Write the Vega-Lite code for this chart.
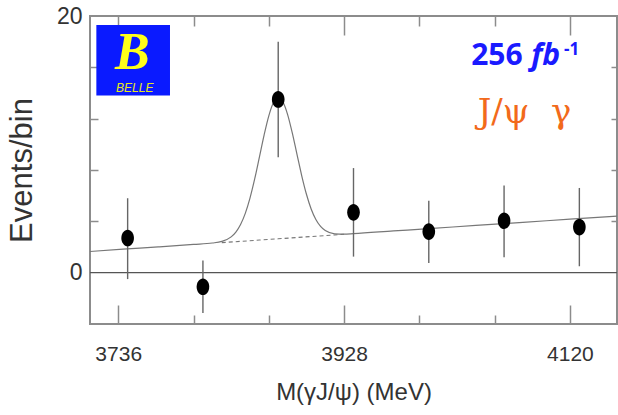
{
  "$schema": "https://vega.github.io/schema/vega-lite/v6.json",
  "width": 527,
  "height": 308,
  "autosize": {"type": "none"},
  "padding": {"left": 90, "top": 16, "right": 1, "bottom": 91},
  "background": "white",
  "config": {
    "view": {"stroke": "#8c8c8c", "strokeWidth": 2},
    "axis": {"grid": false, "domain": false, "labelOverlap": false, "labelFlush": false, "tickColor": "#8c8c8c", "tickWidth": 1.5}
  },
  "datasets": {
    "one": [{"k": 1}],
    "pts": [
      {"m": 3744, "n": 2.7, "lo": -0.5, "hi": 5.8},
      {"m": 3808, "n": -1.1, "lo": -3.15, "hi": 0.95},
      {"m": 3872, "n": 13.5, "lo": 9.0, "hi": 18.0},
      {"m": 3936, "n": 4.7, "lo": 1.25, "hi": 8.15},
      {"m": 4000, "n": 3.2, "lo": 0.75, "hi": 5.6},
      {"m": 4064, "n": 4.05, "lo": 1.2, "hi": 6.8},
      {"m": 4128, "n": 3.55, "lo": 0.5, "hi": 6.6}
    ],
    "fit": [
      {"m": 3712, "f": 1.65}, {"m": 3740, "f": 1.83}, {"m": 3770, "f": 2.01}, {"m": 3800, "f": 2.2},
      {"m": 3816, "f": 2.31}, {"m": 3824, "f": 2.44}, {"m": 3832, "f": 2.79}, {"m": 3836, "f": 3.16},
      {"m": 3840, "f": 3.75}, {"m": 3844, "f": 4.62}, {"m": 3848, "f": 5.81}, {"m": 3852, "f": 7.3},
      {"m": 3856, "f": 9.0}, {"m": 3860, "f": 10.72}, {"m": 3864, "f": 12.22}, {"m": 3868, "f": 13.26},
      {"m": 3872, "f": 13.64}, {"m": 3876, "f": 13.3}, {"m": 3880, "f": 12.32}, {"m": 3884, "f": 10.87},
      {"m": 3888, "f": 9.2}, {"m": 3892, "f": 7.55}, {"m": 3896, "f": 6.11}, {"m": 3900, "f": 4.96},
      {"m": 3904, "f": 4.14}, {"m": 3908, "f": 3.6}, {"m": 3912, "f": 3.28}, {"m": 3920, "f": 3.03},
      {"m": 3928, "f": 3.0}, {"m": 3936, "f": 3.04}, {"m": 3970, "f": 3.25}, {"m": 4000, "f": 3.43},
      {"m": 4040, "f": 3.68}, {"m": 4080, "f": 3.92}, {"m": 4120, "f": 4.17}, {"m": 4160, "f": 4.41}
    ],
    "bkg": [
      {"m": 3824, "b": 2.34}, {"m": 3840, "b": 2.44}, {"m": 3856, "b": 2.54}, {"m": 3872, "b": 2.64},
      {"m": 3888, "b": 2.74}, {"m": 3904, "b": 2.84}, {"m": 3920, "b": 2.94}, {"m": 3928, "b": 2.99}
    ]
  },
  "resolve": {"axis": {"x": "independent", "y": "independent"}},
  "layer": [
    {
      "data": {"name": "one"},
      "mark": {"type": "rule", "color": "#555555", "strokeWidth": 1.2},
      "encoding": {
        "y": {"datum": 0, "type": "quantitative", "scale": {"domain": [-4, 20], "nice": false, "zero": false}, "axis": null}
      }
    },
    {
      "data": {"name": "one"},
      "mark": {"type": "rect", "color": "#0a1aff"},
      "encoding": {
        "x": {"datum": 3717.4, "type": "quantitative", "scale": {"domain": [3712, 4160], "nice": false, "zero": false},
              "axis": {"orient": "top", "values": [3800, 3864, 3992, 4056], "tickSize": -10, "labels": false, "title": null}},
        "x2": {"datum": 3780},
        "y": {"datum": 13.8, "type": "quantitative", "axis": null},
        "y2": {"datum": 19.3}
      }
    },
    {
      "data": {"name": "one"},
      "mark": {"type": "text", "text": "B", "font": "Liberation Serif", "fontStyle": "italic", "fontWeight": "bold", "fontSize": 52, "color": "#ffff1a", "align": "center", "baseline": "alphabetic"},
      "encoding": {
        "x": {"datum": 3748, "type": "quantitative", "axis": null},
        "y": {"datum": 15.85, "type": "quantitative", "axis": null}
      }
    },
    {
      "data": {"name": "one"},
      "mark": {"type": "text", "text": "BELLE", "font": "Liberation Sans", "fontStyle": "italic", "fontSize": 12, "color": "#e8e81a", "align": "center", "baseline": "alphabetic"},
      "encoding": {
        "x": {"datum": 3750, "type": "quantitative", "axis": null},
        "y": {"datum": 14.05, "type": "quantitative", "axis": null}
      }
    },
    {
      "data": {"name": "one"},
      "mark": {"type": "text", "text": "256", "font": "Open Sans", "fontWeight": "bold", "fontSize": 30, "color": "#1a1aff", "align": "left", "baseline": "alphabetic"},
      "encoding": {
        "x": {"datum": 4036, "type": "quantitative", "axis": null},
        "y": {"datum": 16.2, "type": "quantitative", "axis": null}
      }
    },
    {
      "data": {"name": "one"},
      "mark": {"type": "text", "text": "fb", "font": "Open Sans", "fontWeight": "bold", "fontStyle": "italic", "fontSize": 30, "color": "#1a1aff", "align": "left", "baseline": "alphabetic"},
      "encoding": {
        "x": {"datum": 4087, "type": "quantitative", "axis": null},
        "y": {"datum": 16.2, "type": "quantitative", "axis": null}
      }
    },
    {
      "data": {"name": "one"},
      "mark": {"type": "text", "text": "-1", "font": "Open Sans", "fontWeight": "bold", "fontSize": 17, "color": "#1a1aff", "align": "left", "baseline": "alphabetic"},
      "encoding": {
        "x": {"datum": 4115, "type": "quantitative", "axis": null},
        "y": {"datum": 17.0, "type": "quantitative", "axis": null}
      }
    },
    {
      "data": {"name": "one"},
      "mark": {"type": "text", "text": "J/ψ\u00a0 γ", "font": "DejaVu Serif", "fontSize": 34, "color": "#f26a1b", "align": "left", "baseline": "alphabetic"},
      "encoding": {
        "x": {"datum": 4041.6, "type": "quantitative", "axis": null},
        "y": {"datum": 11.67, "type": "quantitative", "axis": null}
      }
    },
    {
      "data": {"name": "bkg"},
      "mark": {"type": "line", "color": "#777777", "strokeWidth": 1.1, "strokeDash": [4, 3]},
      "encoding": {
        "x": {"field": "m", "type": "quantitative",
              "axis": {"orient": "top", "values": [3736, 3928, 4120], "tickSize": -19, "labels": false, "title": null}},
        "y": {"field": "b", "type": "quantitative", "axis": null}
      }
    },
    {
      "data": {"name": "fit"},
      "mark": {"type": "line", "color": "#777777", "strokeWidth": 1.2, "interpolate": "monotone"},
      "encoding": {
        "x": {"field": "m", "type": "quantitative",
              "axis": {"orient": "bottom", "values": [3800, 3864, 3992, 4056], "tickSize": -9, "labels": false, "title": null}},
        "y": {"field": "f", "type": "quantitative",
              "axis": {"orient": "right", "values": [4, 8, 12, 16], "tickSize": -6, "labels": false, "title": null}}
      }
    },
    {
      "data": {"name": "pts"},
      "mark": {"type": "rule", "color": "#666666", "strokeWidth": 1.4},
      "encoding": {
        "x": {"field": "m", "type": "quantitative",
              "axis": {"orient": "bottom", "values": [3736, 3928, 4120], "tickSize": -19, "labels": false, "title": null}},
        "y": {"field": "lo", "type": "quantitative",
              "axis": {"orient": "left", "values": [4, 8, 12, 16], "tickSize": -8, "labels": false, "title": null}},
        "y2": {"field": "hi"}
      }
    },
    {
      "data": {"name": "pts"},
      "mark": {"type": "point", "filled": true, "opacity": 1, "color": "#000000", "size": 276, "shape": "M-0.76,0A0.76,1,0,1,1,0.76,0A0.76,1,0,1,1,-0.76,0Z"},
      "encoding": {
        "x": {"field": "m", "type": "quantitative",
              "axis": {"orient": "bottom", "values": [3736, 3928, 4120], "format": "d", "ticks": false, "labelPadding": 19,
                       "labelFont": "Liberation Sans", "labelFontSize": 21, "labelColor": "#333333",
                       "title": "M(γJ/ψ) (MeV)", "titleFont": "Liberation Sans", "titleFontSize": 24,
                       "titleFontWeight": "normal", "titleColor": "#333333", "titlePadding": 16}},
        "y": {"field": "n", "type": "quantitative",
              "axis": {"orient": "left", "values": [0, 20], "format": "d", "ticks": false, "labelPadding": 8,
                       "labelFont": "Liberation Sans", "labelFontSize": 23, "labelColor": "#333333",
                       "title": "Events/bin", "titleFont": "Liberation Sans", "titleFontSize": 31,
                       "titleFontWeight": "normal", "titleColor": "#333333", "titlePadding": 18}}
      }
    }
  ]
}
